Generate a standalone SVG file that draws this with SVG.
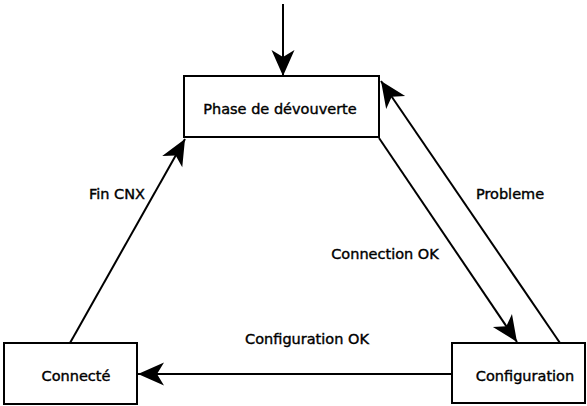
<svg xmlns="http://www.w3.org/2000/svg" width="587" height="406" viewBox="0 0 587 406">
<style>
.box{fill:#fff;stroke:#000;stroke-width:2}
.ln{fill:none;stroke:#000;stroke-width:2;marker-end:url(#ah)}
text{font-family:"DejaVu Sans",sans-serif;font-size:14.5px;fill:#000;stroke:#000;stroke-width:0.4}
.c{text-anchor:middle}
</style>
<defs>
<marker id="ah" markerUnits="userSpaceOnUse" markerWidth="30" markerHeight="30" viewBox="-27 -13 30 26" refX="0" refY="0" orient="auto">
<path d="M0,0 L-26,-11.5 L-19,0 L-26,11.5 z" fill="#000"/>
</marker>
</defs>
<g id="connectors">
<line class="ln" x1="283" y1="4" x2="283" y2="76"/>
<line class="ln" x1="70" y1="343" x2="185" y2="139"/>
<line class="ln" x1="379" y1="138" x2="517" y2="342"/>
<line class="ln" x1="560" y1="343" x2="381" y2="81"/>
<line class="ln" x1="452" y1="374" x2="138" y2="374"/>
<text x="117" y="199" class="c">Fin CNX</text>
<text x="510" y="199" class="c">Probleme</text>
<text x="385" y="259" class="c">Connection OK</text>
<text x="307" y="344" class="c">Configuration OK</text>
</g>
<g id="phase">
<rect class="box" x="184" y="76" width="195" height="61"/>
<text x="280" y="114" class="c">Phase de dévouverte</text>
</g>
<g id="configuration">
<rect class="box" x="452" y="343" width="133" height="60"/>
<text x="525" y="381" class="c">Configuration</text>
</g>
<g id="connecte">
<rect class="box" x="4" y="343" width="133" height="61"/>
<text x="76" y="381" class="c">Connecté</text>
</g>
</svg>
